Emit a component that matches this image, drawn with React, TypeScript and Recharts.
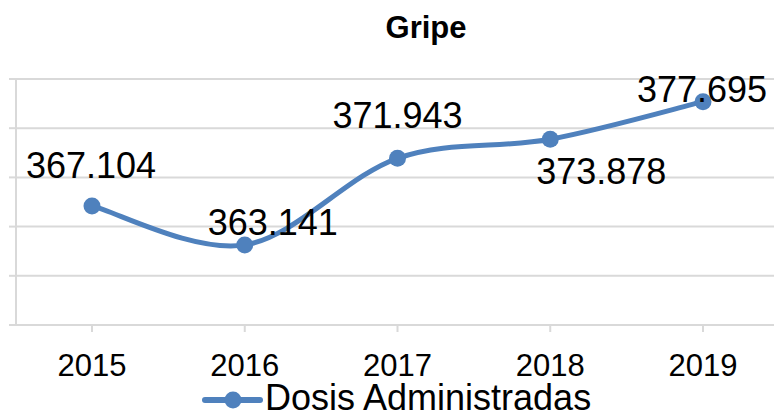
import { CartesianGrid, LabelList, Legend, Line, LineChart, XAxis, YAxis } from "recharts";

const years = ["2015", "2016", "2017", "2018", "2019"];
const doses = [367104, 363141, 371943, 373878, 377695];
const yTicks = [355000, 360000, 365000, 370000, 375000, 380000];

// label nudges (dx, baseline dy) relative to each point, as placed in the source
const labelNudge = [
  [-1, -28],
  [28, -10],
  [0, -30],
  [51, 45],
  [-1, 0],
];

const chartData = years.map((year, i) => ({ year, doses: doses[i] }));

const blue = "#4f81bd";
const gridStroke = "#d9d9d9";
const font = "'Liberation Sans', Arial, sans-serif";

const fmt = (v: number) => String(v).replace(/\B(?=(\d{3})+(?!\d))/g, ".");

// Excel style smoothing (Catmull-Rom)
const smoothCurve = (context: any) => {
  let pts: number[][] = [];
  return {
    areaStart() {},
    areaEnd() {},
    lineStart() {
      pts = [];
    },
    point(x: number, y: number) {
      pts.push([+x, +y]);
    },
    lineEnd() {
      if (!pts.length) return;
      context.moveTo(pts[0][0], pts[0][1]);
      for (let i = 0; i < pts.length - 1; i++) {
        const p0 = pts[i - 1] || pts[i];
        const p1 = pts[i];
        const p2 = pts[i + 1];
        const p3 = pts[i + 2] || p2;
        context.bezierCurveTo(
          p1[0] + (p2[0] - p0[0]) / 6,
          p1[1] + (p2[1] - p0[1]) / 6,
          p2[0] - (p3[0] - p1[0]) / 6,
          p2[1] - (p3[1] - p1[1]) / 6,
          p2[0],
          p2[1]
        );
      }
    },
  };
};

function PointLabel(props: any) {
  const { x, y, value, index } = props;
  const [dx, dy] = labelNudge[index] || [0, -20];
  return (
    <text x={x + dx} y={y + dy} textAnchor="middle" fontSize={36} fill="#000" fontFamily={font}>
      {fmt(value)}
    </text>
  );
}

function LegendContent() {
  return (
    <svg width={774} height={35} style={{ display: "block", overflow: "visible" }}>
      <line x1={205} y1={20} x2={260} y2={20} stroke={blue} strokeWidth={6} strokeLinecap="round" />
      <circle cx={233} cy={20} r={8.5} fill={blue} />
      <text x={265} y={30} fontSize={36} fill="#000" fontFamily={font}>
        Dosis Administradas
      </text>
    </svg>
  );
}

export default function App() {
  return (
    <div style={{ position: "absolute", top: 0, left: 0, width: 774, height: 415, background: "#fff", fontFamily: font }}>
      <div
        style={{
          position: "absolute",
          top: 12,
          left: 0,
          width: 852,
          textAlign: "center",
          fontSize: 31,
          lineHeight: "31px",
          fontWeight: "bold",
          color: "#000",
        }}
      >
        Gripe
      </div>
      <LineChart width={774} height={415} data={chartData} margin={{ top: 79, right: 0, bottom: 0, left: 0 }}>
        <CartesianGrid vertical={false} stroke={gridStroke} strokeWidth={2} />
        <XAxis
          dataKey="year"
          height={55}
          padding={{ left: 76, right: 71 }}
          axisLine={{ stroke: gridStroke, strokeWidth: 2 }}
          tickLine={{ stroke: gridStroke, strokeWidth: 2 }}
          tickSize={7}
          tickMargin={22}
          tick={{ fontSize: 31, fill: "#000", fontFamily: font }}
        />
        <YAxis
          width={16}
          domain={[355000, 380000]}
          ticks={yTicks}
          tickFormatter={() => ""}
          axisLine={{ stroke: gridStroke, strokeWidth: 2 }}
          tickLine={{ stroke: gridStroke, strokeWidth: 2 }}
          tickSize={7}
        />
        <Legend
          verticalAlign="bottom"
          height={35}
          wrapperStyle={{ top: 380, bottom: "auto", left: 0, width: 774, height: 35 }}
          content={() => <LegendContent />}
        />
        <Line
          type={smoothCurve as any}
          dataKey="doses"
          name="Dosis Administradas"
          stroke={blue}
          strokeWidth={5}
          dot={{ r: 8.5, fill: blue, stroke: blue, strokeWidth: 0 }}
          activeDot={false}
          isAnimationActive={false}
        >
          <LabelList dataKey="doses" content={<PointLabel />} />
        </Line>
      </LineChart>
    </div>
  );
}
